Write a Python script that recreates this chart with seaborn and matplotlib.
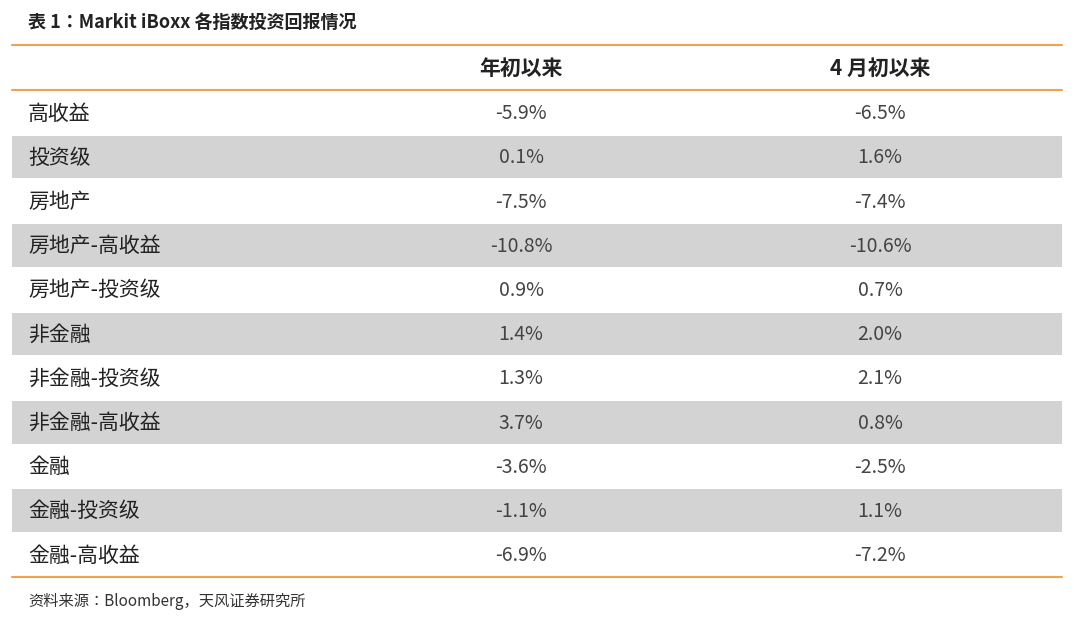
import matplotlib
matplotlib.use("Agg")
import matplotlib.pyplot as plt
import seaborn as sns
import pandas as pd

title = "表 1：Markit iBoxx 各指数投资回报情况"
columns = ["年初以来", "4 月初以来"]
categories = ["高收益", "投资级", "房地产", "房地产-高收益", "房地产-投资级", "非金融",
              "非金融-投资级", "非金融-高收益", "金融", "金融-投资级", "金融-高收益"]
ytd = ["-5.9%", "0.1%", "-7.5%", "-10.8%", "0.9%", "1.4%", "1.3%", "3.7%", "-3.6%", "-1.1%", "-6.9%"]
since_april = ["-6.5%", "1.6%", "-7.4%", "-10.6%", "0.7%", "2.0%", "2.1%", "0.8%", "-2.5%", "1.1%", "-7.2%"]
source = "资料来源：Bloomberg，天风证券研究所"

sns.set_theme(style="white")
FAM = ["Noto Sans CJK SC", "Noto Sans CJK JP", "Noto Sans CJK TC", "DejaVu Sans"]
plt.rcParams["font.family"] = FAM
W, H = 1074, 619
fig = plt.figure(figsize=(W / 100, H / 100), dpi=100)
ax = fig.add_axes([0, 0, 1, 1])
ax.set_xlim(0, W)
ax.set_ylim(H, 0)
ax.axis("off")

df = pd.DataFrame({"cat": categories, "ytd": ytd, "apr": since_april})
orange = "#f0a24e"
gray = "#d3d3d3"
x0, x1 = 12, 1062
row_top, row_h = 91.5, 44.2
c1, c2 = 521, 880

def t(x, y, s, **kw):
    ax.text(x, y, s, family=FAM, va="center", **kw)

t(28, 22, title, fontsize=13, fontweight="bold", ha="left", color="#222222")
ax.plot([x0, x1], [45, 45], color=orange, lw=1.5)
t(c1, 68, columns[0], fontsize=15, fontweight="bold", ha="center", color="#222222")
t(c2, 68, columns[1], fontsize=15, fontweight="bold", ha="center", color="#222222")
ax.plot([x0, x1], [90, 90], color=orange, lw=1.5)

for i, r in df.iterrows():
    top = row_top + i * row_h
    yc = top + row_h / 2
    if i % 2 == 1:
        ax.fill_between([x0, x1], top, top + row_h - 1.5, color=gray, lw=0)
    t(28, yc, r["cat"], fontsize=15, ha="left", color="#222222")
    t(c1, yc, r["ytd"], fontsize=14, ha="center", color="#444444")
    t(c2, yc, r["apr"], fontsize=14, ha="center", color="#444444")

ax.plot([x0, x1], [577, 577], color=orange, lw=1.5)
t(28, 601, source, fontsize=11, ha="left", color="#333333")
fig.savefig("out.png", dpi=100)
